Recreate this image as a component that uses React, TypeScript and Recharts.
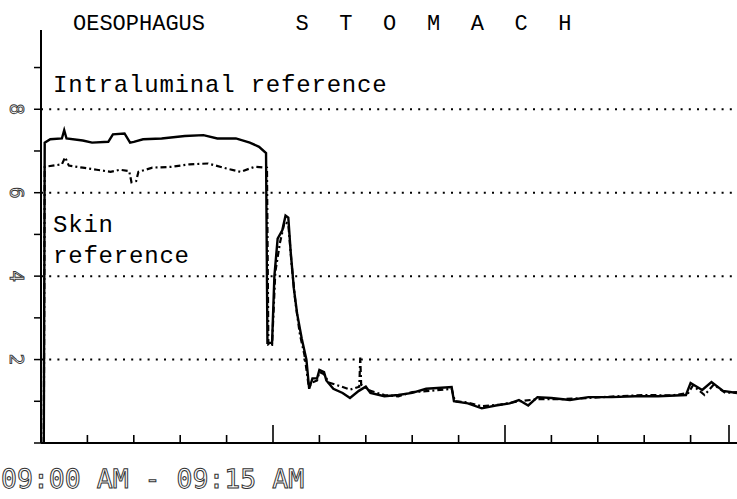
import React from 'react';
import { LineChart, Line, XAxis, YAxis, ReferenceLine } from 'recharts';

// minutes after 09:00 and temperature-like readings
const minutesA = [0.06, 0.08, 0.2, 0.45, 0.5, 0.55, 0.9, 1.1, 1.45, 1.55, 1.8, 1.92, 2.0, 2.2, 2.6, 3.1, 3.5, 3.8, 4.2, 4.5, 4.7, 4.85, 4.88, 4.98, 5.03, 5.1, 5.2, 5.27, 5.33, 5.38, 5.45, 5.52, 5.62, 5.72, 5.78, 5.85, 5.95, 6.0, 6.1, 6.15, 6.3, 6.5, 6.66, 6.85, 7.0, 7.1, 7.4, 7.7, 8.0, 8.3, 8.85, 8.9, 9.2, 9.5, 9.8, 10.1, 10.3, 10.5, 10.7, 11.0, 11.4, 11.8, 12.3, 12.8, 13.3, 13.9, 14.0, 14.25, 14.45, 14.7, 15.0];
const valuesA = [0, 7.2, 7.28, 7.3, 7.5, 7.3, 7.25, 7.2, 7.22, 7.4, 7.42, 7.2, 7.22, 7.28, 7.3, 7.36, 7.38, 7.3, 7.3, 7.2, 7.1, 6.95, 2.4, 2.4, 4.0, 4.9, 5.1, 5.45, 5.4, 4.6, 3.7, 3.1, 2.5, 2.0, 1.3, 1.55, 1.55, 1.75, 1.7, 1.5, 1.3, 1.2, 1.08, 1.25, 1.35, 1.2, 1.12, 1.15, 1.2, 1.3, 1.34, 1.0, 0.95, 0.83, 0.9, 0.95, 1.03, 0.9, 1.1, 1.08, 1.03, 1.1, 1.1, 1.12, 1.12, 1.15, 1.44, 1.27, 1.46, 1.25, 1.2];

const minutesB = [0.06, 0.08, 0.45, 0.52, 0.6, 0.9, 1.2, 1.5, 1.7, 1.9, 1.95, 2.05, 2.1, 2.4, 2.8, 3.2, 3.6, 4.0, 4.3, 4.6, 4.87, 4.9, 4.98, 5.05, 5.15, 5.25, 5.33, 5.4, 5.48, 5.58, 5.68, 5.77, 5.85, 5.95, 6.0, 6.1, 6.2, 6.4, 6.66, 6.86, 6.88, 6.9, 7.1, 7.4, 7.7, 8.0, 8.4, 8.85, 8.92, 9.2, 9.5, 9.9, 10.3, 10.7, 11.2, 11.8, 12.4, 13.0, 13.6, 13.95, 14.05, 14.3, 14.5, 14.75, 15.0];
const valuesB = [0, 6.62, 6.68, 6.85, 6.65, 6.6, 6.55, 6.5, 6.55, 6.52, 6.25, 6.28, 6.5, 6.6, 6.62, 6.68, 6.7, 6.58, 6.5, 6.62, 6.6, 2.35, 2.35, 4.1, 4.8, 5.3, 5.25, 4.3, 3.4, 2.6, 2.1, 1.35, 1.45, 1.5, 1.7, 1.65, 1.45, 1.38, 1.28, 1.35, 2.05, 1.4, 1.25, 1.15, 1.12, 1.22, 1.25, 1.3, 1.0, 0.97, 0.88, 0.92, 1.0, 1.05, 1.05, 1.08, 1.12, 1.15, 1.14, 1.2, 1.38, 1.15, 1.4, 1.2, 1.22];

const xTicks = [0, 1, 2, 3, 4, 5, 6, 7, 8, 9, 10, 11, 12, 13, 14, 15];
const yTicks = [0, 1, 2, 3, 4, 5, 6, 7, 8, 9];
const yLabelled = [2, 4, 6, 8];
const gridValues = [2, 4, 6, 8];

const titleLeft = 'OESOPHAGUS';
const titleRight = 'S T O M A C H';
const noteTop = 'Intraluminal reference';
const noteSkin = ['Skin', 'reference'];
const timeLabel = '09:00 AM - 09:15 AM';

const dataA = minutesA.map((m, i) => ({ m, v: valuesA[i] }));
const dataB = minutesB.map((m, i) => ({ m, v: valuesB[i] }));

const serif = '"Liberation Mono", monospace';
const dot = '"DejaVu Sans Mono", monospace';

const XTick = (props: any) => {
  const { x, y, payload } = props;
  const m = payload.value;
  if (m === 0) return <g />;
  const len = m % 5 === 0 ? 18 : 8;
  return <line x1={x} x2={x} y1={y} y2={y - len} stroke="#000" strokeWidth={1.6} />;
};

const YTick = (props: any) => {
  const { x, y, payload } = props;
  if (!yLabelled.includes(payload.value)) return <g />;
  return (
    <text
      x={x - 15}
      y={y}
      transform={`rotate(90 ${x - 15} ${y})`}
      textAnchor="middle"
      dominantBaseline="central"
      fontFamily={dot}
      fontSize={19}
      fill="#fff"
      stroke="#333"
      strokeWidth={0.9}
    >
      {payload.value}
    </text>
  );
};

export default function App() {
  return (
    <div style={{ position: 'absolute', left: 0, top: 0, width: 737, height: 499, background: '#fff' }}>
      <LineChart width={737} height={499} data={dataA} margin={{ top: 30, right: 0, left: 0, bottom: 0 }}>
        <XAxis
          dataKey="m"
          type="number"
          domain={[0, 15]}
          ticks={xTicks}
          height={56}
          tickSize={0}
          tickMargin={0}
          tickLine={false}
          tick={<XTick />}
          axisLine={{ stroke: '#000', strokeWidth: 2 }}
          allowDataOverflow
        />
        <YAxis
          type="number"
          domain={[0, 9.9]}
          ticks={yTicks}
          width={41}
          tickSize={7}
          tickMargin={2}
          tickLine={{ stroke: '#000', strokeWidth: 1.5 }}
          tick={<YTick />}
          axisLine={{ stroke: '#000', strokeWidth: 2 }}
          allowDataOverflow
        />
        {gridValues.map((g) => (
          <ReferenceLine key={g} y={g} stroke="#000" strokeWidth={2} strokeDasharray="2 6.2" />
        ))}
        <Line
          data={dataB}
          dataKey="v"
          type="linear"
          stroke="#000"
          strokeWidth={2.2}
          strokeDasharray="6 3 2 3"
          dot={false}
          isAnimationActive={false}
        />
        <Line
          data={dataA}
          dataKey="v"
          type="linear"
          stroke="#000"
          strokeWidth={2.4}
          dot={false}
          isAnimationActive={false}
        />
      </LineChart>
      <svg
        width={737}
        height={499}
        style={{ position: 'absolute', left: 0, top: 0, pointerEvents: 'none' }}
      >
        <text x={73} y={30} fontFamily={serif} fontSize={22} fill="#000">
          {titleLeft}
        </text>
        <text x={295.5} y={30} fontFamily={serif} fontSize={22} letterSpacing={8.7} fill="#000">
          {titleRight}
        </text>
        <text x={53} y={92} fontFamily={serif} fontSize={24} letterSpacing={0.8} fill="#000">
          {noteTop}
        </text>
        {noteSkin.map((t, i) => (
          <text key={t} x={53} y={232 + i * 31} fontFamily={serif} fontSize={24} letterSpacing={0.8} fill="#000">
            {t}
          </text>
        ))}
        <text
          x={1}
          y={488}
          fontFamily={dot}
          fontSize={26.5}
          fill="#fff"
          stroke="#333"
          strokeWidth={1}
          textRendering="geometricPrecision"
        >
          {timeLabel}
        </text>
      </svg>
    </div>
  );
}
